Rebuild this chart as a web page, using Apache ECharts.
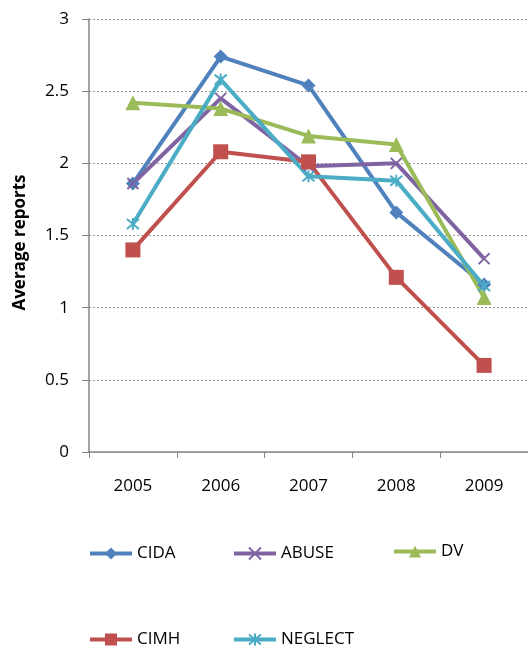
<!DOCTYPE html>
<html>
<head>
<meta charset="utf-8">
<script src="https://cdn.jsdelivr.net/npm/echarts@6/dist/echarts.min.js"></script>
<style>
  html, body { margin: 0; padding: 0; background: #fff; }
  #chart { width: 528px; height: 649px; }
</style>
</head>
<body>
<div id="chart"></div>
<script>
// data
const years = ["2005", "2006", "2007", "2008", "2009"];
const cida = [1.86, 2.74, 2.54, 1.66, 1.16];
const abuse = [1.86, 2.45, 1.98, 2.0, 1.34];
const dv = [2.42, 2.38, 2.19, 2.13, 1.07];
const cimh = [1.40, 2.08, 2.01, 1.21, 0.60];
const neglect = [1.58, 2.58, 1.91, 1.88, 1.15];

const font = "'Open Sans', 'Liberation Sans', sans-serif";
const xPath = "path://M0,0L10,10M10,0L0,10";
const starPath = "path://M0,0L10,10M10,0L0,10M5,-1L5,11";

function lineSeries(name, data, color, symbol, size, stroke) {
  return {
    name: name,
    type: "line",
    data: data,
    symbol: symbol,
    symbolSize: size,
    lineStyle: { color: color, width: 4 },
    itemStyle: stroke
      ? { color: "rgba(0,0,0,0)", borderColor: color, borderWidth: 2 }
      : { color: color },
    emphasis: { disabled: true },
    z: 2
  };
}

function legendAt(name, left, top) {
  return {
    data: [name],
    left: left,
    top: top,
    padding: 0,
    itemWidth: 42,
    itemHeight: 15,
    lineStyle: { width: 4 },
    textStyle: { fontFamily: font, fontSize: 17, color: "#000" }
  };
}

let myChart = echarts.init(document.getElementById("chart"));
const option = {
  animation: false,
  backgroundColor: "#fff",
  grid: { left: 89, top: 19, right: -2, bottom: 197, containLabel: false },
  legend: [
    legendAt("CIDA", 88, 545),
    legendAt("ABUSE", 232, 545),
    legendAt("DV", 392, 543),
    legendAt("CIMH", 88, 631),
    legendAt("NEGLECT", 232, 631)
  ],
  xAxis: {
    type: "category",
    data: years,
    boundaryGap: true,
    axisLine: { lineStyle: { color: "#868686", width: 1.5 } },
    axisTick: { show: true, length: 6, lineStyle: { color: "#868686" } },
    axisLabel: { margin: 26, fontFamily: font, fontSize: 17, color: "#000" },
    splitLine: { show: false }
  },
  yAxis: {
    type: "value",
    min: 0,
    max: 3,
    interval: 0.5,
    name: "Average reports",
    nameLocation: "middle",
    nameGap: 60,
    nameTextStyle: { fontFamily: font, fontSize: 17, fontWeight: "bold", color: "#000", padding: [0, 14, 0, 0] },
    axisLine: { show: true, lineStyle: { color: "#868686", width: 1.5 } },
    axisTick: { show: true, length: 7, lineStyle: { color: "#868686" } },
    axisLabel: { margin: 20, fontFamily: font, fontSize: 17, color: "#000" },
    splitLine: { show: true, lineStyle: { color: "#9a9a9a", type: [2, 2], width: 1 } }
  },
  series: [
    lineSeries("CIDA", cida, "#4F81BD", "diamond", 14, false),
    lineSeries("ABUSE", abuse, "#8064A2", xPath, 11, true),
    lineSeries("DV", dv, "#9BBB59", "triangle", 15, false),
    lineSeries("CIMH", cimh, "#C0504D", "rect", 15, false),
    lineSeries("NEGLECT", neglect, "#4BACC6", starPath, 12, true)
  ]
};
myChart.setOption(option);
window.onresize = myChart.resize;
</script>
</body>
</html>
